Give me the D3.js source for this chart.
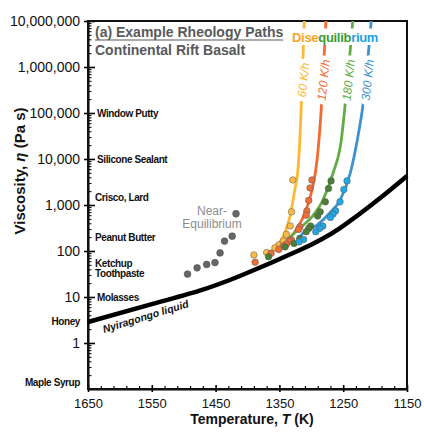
<!DOCTYPE html>
<html>
<head>
<meta charset="utf-8">
<script src="https://cdn.jsdelivr.net/npm/d3@7"></script>
<style>
  body { margin: 0; background: #fff; }
  text { font-family: "Liberation Sans", Arial, sans-serif; }
</style>
</head>
<body>
<svg id="chart" width="424" height="432"></svg>
<script>
// axis ticks
var xTicks = [1650, 1550, 1450, 1350, 1250, 1150];
var yTicks = [1, 10, 100, 1000, 10000, 100000, 1000000, 10000000];

// everyday materials for scale
var refNames = ['Window Putty', 'Silicone Sealant', 'Crisco, Lard', 'Peanut Butter', 'Ketchup', 'Toothpaste', 'Molasses', 'Honey', 'Maple Syrup'];
var refEta = [100000, 10000, 1450, 194, 54, 33, 10, 3, 0.14];
var refLeft = [false, false, false, false, false, false, false, true, true];

// Nyiragongo liquid viscosity [T, eta]
var liquid = [[1650, 2.86], [1550, 7.0], [1475, 13.8], [1412, 28.6], [1318, 105], [1255, 316], [1192, 1420], [1150, 4270]];

// near equilibrium points
var nearEqT = [1494, 1479, 1464, 1451, 1443, 1436, 1424, 1418];
var nearEqEta = [31.5, 43, 51, 56, 91, 164, 210, 645];

// cooling rate paths
var rates = ['60 K/h', '120 K/h', '180 K/h', '300 K/h'];
var curve60 = [[1368, 92], [1352, 135], [1341, 257], [1333, 600], [1326, 2100], [1321, 5700], [1318, 25700], [1316, 115000], [1311, 10000000]];
var curve120 = [[1360, 118], [1349, 141], [1333, 200], [1321, 330], [1310, 670], [1299, 2100], [1291, 9400], [1288, 25700], [1284, 148000], [1277, 10000000]];
var curve180 = [[1345, 140], [1333, 200], [1318, 315], [1299, 550], [1282, 1260], [1266, 4900], [1253, 25700], [1247, 148000], [1235, 10000000]];
var curve300 = [[1322, 170], [1313, 245], [1291, 365], [1271, 670], [1255, 1260], [1239, 4900], [1228, 25700], [1219, 148000], [1206, 10000000]];

var pts60 = [[1329, 3500], [1331, 710], [1333, 350], [1339, 230], [1344, 166], [1351, 135], [1357, 117], [1370, 93], [1390, 82]];
var pts120 = [[1299, 3500], [1302, 2350], [1304, 1260], [1307, 740], [1308, 600], [1318, 335], [1320, 295], [1331, 173], [1334, 164], [1339, 141], [1344, 128], [1351, 108], [1363, 89], [1388, 57]];
var pts180 = [[1269, 3340], [1273, 2290], [1278, 1170], [1286, 710], [1290, 575], [1301, 347], [1304, 310], [1308, 262], [1318, 188], [1327, 146], [1341, 123], [1367, 75]];
var pts300 = [[1244, 3340], [1249, 2180], [1255, 1170], [1262, 745], [1266, 635], [1270, 535], [1282, 347], [1287, 310], [1293, 262], [1312, 178], [1319, 158]];

var lineColors = ['#FDB933', '#F26B35', '#62AC46', '#3E92D1'];
var dotColors = ['#FDBB45', '#EE6E3A', '#4C7F35', '#22A8E4'];

var svg = d3.select('#chart');

var x = d3.scaleLinear().domain([1650, 1150]).range([88, 407]);
var y = d3.scaleLog().domain([0.1, 10000000]).range([389, 21]);

// minor ticks
var yMinor = [];
[0.1, 1, 10, 100, 1000, 10000, 100000, 1000000].forEach(function(d) {
    for (var m = 2; m <= 9; m++) yMinor.push(d * m);
});
var xMinor = d3.range(1650, 1149, -20).filter(function(d) { return xTicks.indexOf(d) < 0; });

svg.append('g')
    .attr('transform', 'translate(88,0)')
    .call(d3.axisRight(y).tickValues(yMinor).tickSize(3.5).tickFormat(''))
    .call(function(g) { g.select('.domain').remove(); g.selectAll('line').attr('stroke-width', 1); });

svg.append('g')
    .attr('transform', 'translate(0,389)')
    .call(d3.axisTop(x).tickValues(xMinor).tickSize(3).tickFormat(''))
    .call(function(g) { g.select('.domain').remove(); g.selectAll('line').attr('stroke-width', 1.2); });

// y axis
svg.append('g')
    .attr('transform', 'translate(88,0)')
    .call(d3.axisLeft(y).tickValues(yTicks).tickFormat(d3.format(',')).tickSize(4).tickPadding(4).tickSizeOuter(0))
    .call(function(g) {
        g.select('.domain').attr('stroke-width', 2);
        g.selectAll('.tick line').attr('x1', 7).attr('stroke-width', 1.6);
        g.selectAll('.tick text').attr('font-size', 14).attr('fill', '#111')
            .style('font-family', '"Liberation Sans", Arial, sans-serif');
    });

// x axis
svg.append('g')
    .attr('transform', 'translate(0,389)')
    .call(d3.axisBottom(x).tickValues(xTicks).tickFormat(d3.format('d')).tickSize(3).tickPadding(7).tickSizeOuter(0))
    .call(function(g) {
        g.select('.domain').attr('stroke-width', 2);
        g.selectAll('.tick line').attr('y1', -4).attr('stroke-width', 1.6);
        g.selectAll('.tick text').attr('font-size', 13).attr('fill', '#111')
            .style('font-family', '"Liberation Sans", Arial, sans-serif');
    });

// frame
svg.append('rect')
    .attr('x', x(1650)).attr('y', y(10000000))
    .attr('width', x(1150) - x(1650)).attr('height', y(0.1) - y(10000000))
    .attr('fill', 'none').attr('stroke', '#111').attr('stroke-width', 2);

// reference materials
svg.append('g').selectAll('text')
    .data(refNames)
    .enter().append('text')
    .attr('x', function(d, i) { return refLeft[i] ? 80 : ([1e5, 1e4, 10].indexOf(refEta[i]) >= 0 ? 97 : 95); })
    .attr('y', function(d, i) { return y(refEta[i]); })
    .attr('dy', '0.35em')
    .attr('text-anchor', function(d, i) { return refLeft[i] ? 'end' : 'start'; })
    .attr('font-size', 10)
    .attr('font-weight', 'bold')
    .attr('letter-spacing', -0.4)
    .attr('fill', '#111')
    .text(function(d) { return d; });

var line = d3.line()
    .x(function(d) { return x(d[0]); })
    .y(function(d) { return y(d[1]); })
    .curve(d3.curveMonotoneX);

// liquid line
svg.append('path')
    .datum(liquid)
    .attr('d', line.curve(d3.curveNatural))
    .attr('fill', 'none')
    .attr('stroke', '#000')
    .attr('stroke-width', 4.5);
line.curve(d3.curveMonotoneX);

svg.append('text')
    .attr('transform', 'translate(104,333) rotate(-17)')
    .attr('font-size', 10.5)
    .attr('font-weight', 'bold')
    .attr('font-style', 'italic')
    .attr('fill', '#111')
    .text('Nyiragongo liquid');

// cooling paths
var curves = [curve60, curve120, curve180, curve300];
var points = [pts60, pts120, pts180, pts300];
var labelX = [303.5, 323.5, 348.5, 367.5];

curves.forEach(function(c, i) {
    svg.append('path')
        .datum(c)
        .attr('d', line)
        .attr('fill', 'none')
        .attr('stroke', lineColors[i])
        .attr('stroke-width', 2.8);
});

points.forEach(function(p, i) {
    svg.append('g').selectAll('circle')
        .data(p)
        .enter().append('circle')
        .attr('cx', function(d) { return x(d[0]); })
        .attr('cy', function(d) { return y(d[1]); })
        .attr('r', 3.3)
        .attr('fill', dotColors[i])
        .attr('stroke', '#555')
        .attr('stroke-width', 0.5);
});

// rate labels (white halo cuts the line)
rates.forEach(function(r, i) {
    svg.append('text')
        .attr('transform', 'translate(' + labelX[i] + ',80) rotate(-84)')
        .attr('text-anchor', 'middle')
        .attr('dy', '0.35em')
        .attr('font-size', 12)
        .attr('font-style', 'italic')
        .attr('fill', lineColors[i])
        .attr('stroke', '#fff')
        .attr('stroke-width', 9)
        .attr('paint-order', 'stroke')
        .text(r);
});

// Disequilibrium over a white strip that breaks the lines
var gapRect = svg.append('rect').attr('fill', '#fff');
var diseq = svg.append('text')
    .attr('x', 292).attr('y', 42)
    .attr('font-size', 13)
    .attr('font-weight', 'bold')
    .attr('letter-spacing', -0.3);
diseq.append('tspan').attr('fill', '#F7A823').text('Dise');
diseq.append('tspan').attr('fill', '#3A9B36').text('quilib');
diseq.append('tspan').attr('fill', '#1EA3E3').text('rium');
var bb = diseq.node().getBBox();
gapRect.attr('x', bb.x - 2).attr('y', 28.5).attr('width', bb.width + 4).attr('height', 16.5);

// near equilibrium
svg.append('g').selectAll('circle')
    .data(nearEqT)
    .enter().append('circle')
    .attr('cx', function(d) { return x(d); })
    .attr('cy', function(d, i) { return y(nearEqEta[i]); })
    .attr('r', 3.4)
    .attr('fill', '#666')
    .attr('stroke', '#444')
    .attr('stroke-width', 0.5);

var ne = svg.append('text')
    .attr('text-anchor', 'middle')
    .attr('font-size', 12)
    .attr('fill', '#8C8C8C');
ne.append('tspan').attr('x', 212).attr('y', 215).text('Near-');
ne.append('tspan').attr('x', 212).attr('y', 227.5).text('Equilibrium');

// title
var t1 = svg.append('text')
    .attr('x', 95).attr('y', 37)
    .attr('font-size', 14)
    .attr('font-weight', 'bold')
    .attr('fill', '#58595B')
    .text('(a) Example Rheology Paths');
svg.append('line')
    .attr('x1', 95).attr('x2', 95 + t1.node().getComputedTextLength())
    .attr('y1', 40).attr('y2', 40)
    .attr('stroke', '#58595B').attr('stroke-width', 1.2);
svg.append('text')
    .attr('x', 95).attr('y', 55)
    .attr('font-size', 14)
    .attr('font-weight', 'bold')
    .attr('fill', '#58595B')
    .text('Continental Rift Basalt');

// axis titles
var yl = svg.append('text')
    .attr('transform', 'translate(25,171) rotate(-90)')
    .attr('text-anchor', 'middle')
    .attr('font-size', 15)
    .attr('font-weight', 'bold')
    .attr('fill', '#111');
yl.append('tspan').text('Viscosity, ');
yl.append('tspan').attr('font-style', 'italic').text('η');
yl.append('tspan').text(' (Pa s)');

var xl = svg.append('text')
    .attr('x', 252).attr('y', 424)
    .attr('text-anchor', 'middle')
    .attr('font-size', 14)
    .attr('font-weight', 'bold')
    .attr('fill', '#111');
xl.append('tspan').text('Temperature, ');
xl.append('tspan').attr('font-style', 'italic').text('T');
xl.append('tspan').text(' (K)');
</script>
</body>
</html>
